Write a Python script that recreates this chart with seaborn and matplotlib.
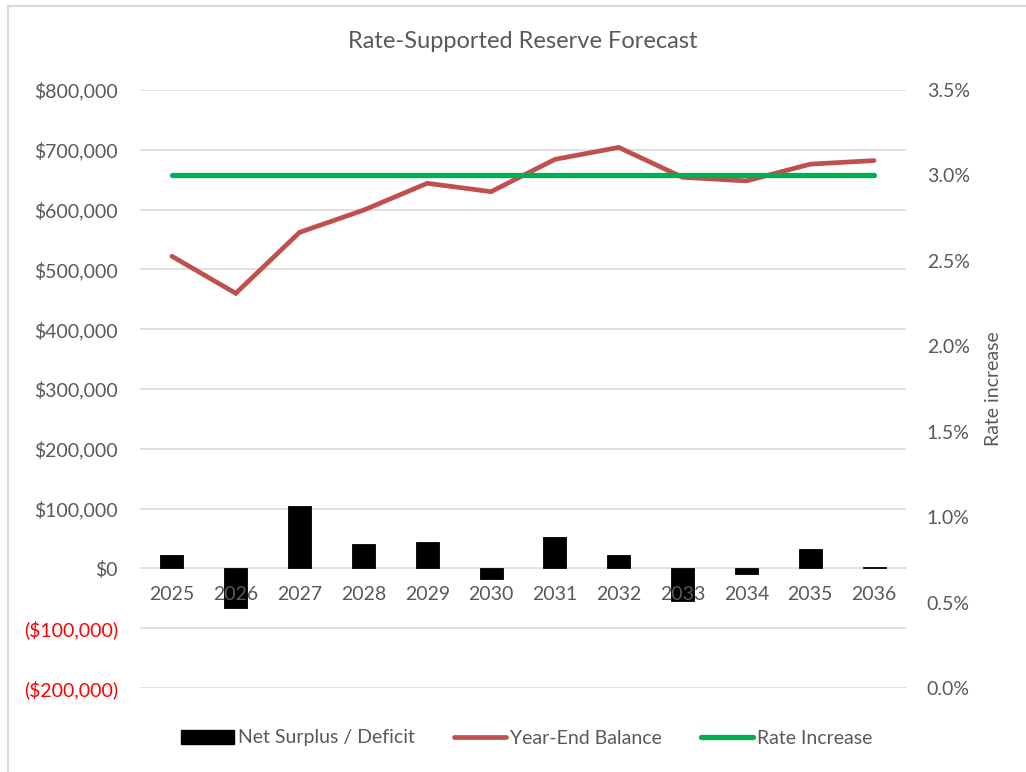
import numpy as np
import pandas as pd
import matplotlib
matplotlib.use("Agg")
import matplotlib.pyplot as plt
from matplotlib.lines import Line2D
from matplotlib.patches import Patch
import seaborn as sns

# Chart data
years = ["2025", "2026", "2027", "2028", "2029", "2030",
         "2031", "2032", "2033", "2034", "2035", "2036"]
net_surplus = [22000, -66000, 104000, 40000, 44000, -17000,
               52000, 22000, -54000, -10000, 33000, 3000]
year_end_balance = [522000, 460000, 562000, 599000, 644000, 630000,
                    684000, 704000, 654000, 648000, 676000, 682000]
rate_increase = [0.03] * 12

left_ticks = [-200000, -100000, 0, 100000, 200000, 300000, 400000,
              500000, 600000, 700000, 800000]
right_ticks = [0.0, 0.005, 0.01, 0.015, 0.02, 0.025, 0.03, 0.035]

GRAY = "#595959"
GRID = "#D9D9D9"
RED_LINE = "#C0504D"
GREEN = "#00B050"
FONT = ["Lato", "DejaVu Sans"]
FS = 14


def money(v):
    if v < 0:
        return f"(${-v:,.0f})"
    return f"${v:,.0f}"


sns.set_theme(style="white")
plt.rcParams["font.family"] = FONT

df = pd.DataFrame({"Year": years, "Net": net_surplus,
                   "Balance": year_end_balance, "Rate": rate_increase})

fig = plt.figure(figsize=(10.26, 7.72), dpi=100)
ax = fig.add_axes([140 / 1026, 1 - 688 / 772, 766 / 1026, 598 / 772])

# horizontal gridlines behind everything
for v in left_ticks:
    ax.axhline(v, color=GRID, linewidth=1.1, zorder=0)

# bars: net surplus / deficit
sns.barplot(data=df, x="Year", y="Net", color="black", saturation=1,
            width=0.36, ax=ax, zorder=1, edgecolor="black", linewidth=0.6)
# red line: year-end balance on the same (left) axis
x_pos = np.arange(len(years))
sns.lineplot(x=x_pos, y=df["Balance"], color=RED_LINE, linewidth=3.4,
             ax=ax, zorder=3, solid_capstyle="round", solid_joinstyle="miter")

ax.set_xlim(-0.5, len(years) - 0.5)
ax.set_ylim(-200000, 800000)
ax.set_yticks(left_ticks, [money(v) for v in left_ticks])
for lab, v in zip(ax.get_yticklabels(), left_ticks):
    lab.set_color("#FF0000" if v < 0 else GRAY)
ax.grid(False)
ax.set_axisbelow(False)
ax.xaxis.set_zorder(5)    # year labels sit on top of the bars
ax.set_xlabel("")
ax.set_ylabel("")
for s in ax.spines.values():
    s.set_visible(False)
ax.spines["bottom"].set_position(("data", 0))
ax.tick_params(axis="y", length=0, pad=16, labelsize=FS)
ax.tick_params(axis="x", length=0, pad=13, labelsize=FS, labelcolor=GRAY)

# right axis: rate increase
ax2 = ax.twinx()
sns.lineplot(x=x_pos, y=df["Rate"], color=GREEN, linewidth=3.8, ax=ax2,
             solid_capstyle="round")
ax2.set_ylim(0, 0.035)
ax2.set_yticks(right_ticks, [f"{v * 100:.1f}%" for v in right_ticks])
ax2.tick_params(axis="y", length=0, pad=15, labelsize=FS, labelcolor=GRAY)
ax2.set_ylabel("Rate increase", color=GRAY, fontsize=FS, labelpad=11)
ax2.grid(False)
for s in ax2.spines.values():
    s.set_visible(False)

fig.text(523 / 1026, 1 - 42 / 772, "Rate-Supported Reserve Forecast",
         ha="center", va="center", fontsize=17, color=GRAY)

handles = [Patch(facecolor="black", edgecolor="black"),
           Line2D([], [], color=RED_LINE, linewidth=3.4, solid_capstyle="round"),
           Line2D([], [], color=GREEN, linewidth=3.8, solid_capstyle="round")]
labels = ["Net Surplus / Deficit", "Year-End Balance", "Rate Increase"]
fig.legend(handles, labels, loc="center", bbox_to_anchor=(527 / 1026, 1 - 738 / 772),
           ncol=3, frameon=False, fontsize=FS, labelcolor=GRAY,
           handlelength=2.7, handletextpad=0.2, columnspacing=2.0,
           handleheight=0.75)

# chart-area border (only left and top edges are visible in the reference)
fig.add_artist(Line2D([8 / 1026, 8 / 1026], [0, 1 - 6 / 772], color=GRID,
                      linewidth=1.5, transform=fig.transFigure))
fig.add_artist(Line2D([8 / 1026, 1], [1 - 6 / 772, 1 - 6 / 772], color=GRID,
                      linewidth=1.5, transform=fig.transFigure))

fig.savefig("out.png", dpi=100)
